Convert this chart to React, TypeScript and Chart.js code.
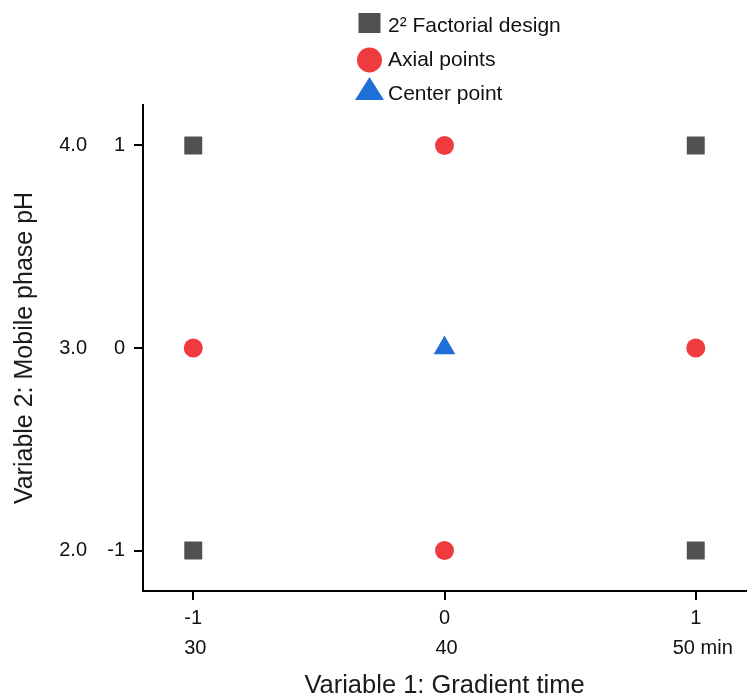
import React, { useEffect, useRef } from 'react';
import { Chart, registerables } from 'chart.js';

Chart.register(...registerables);

// Central composite design: coded levels of the two variables
const factorialX = [-1, 1, -1, 1];
const factorialY = [1, 1, -1, -1];
const axialX = [0, -1, 1, 0];
const axialY = [1, 0, 0, -1];
const centerX = [0];
const centerY = [0];

const seriesNames = ['2² Factorial design', 'Axial points', 'Center point'];
const seriesColors = ['#505050', '#EF3B3E', '#1F6FD8'];

const codedTicks = [-1, 0, 1];
const timeLabels = ['30', '40', '50 min'];
const phLabels = ['2.0', '3.0', '4.0'];

const xTitle = 'Variable 1: Gradient time';
const yTitle = 'Variable 2: Mobile phase pH';

const FONT = "'Liberation Sans', Arial, sans-serif";
const TICK_SIZE = 20;

const toPoints = (xs: number[], ys: number[]) => xs.map((x, i) => ({ x, y: ys[i] }));

// Second row of axis labels: the real-unit values under the coded levels
const unitLabelsPlugin = {
  id: 'unitLabels',
  afterDraw(chart: any) {
    const { ctx } = chart;
    const xs = chart.scales.x;
    const ys = chart.scales.y;
    ctx.save();
    ctx.font = `${TICK_SIZE}px ${FONT}`;
    ctx.fillStyle = '#111';
    ctx.textBaseline = 'middle';
    ctx.textAlign = 'center';
    codedTicks.forEach((v, i) => {
      const label = timeLabels[i];
      // the unit suffix hangs to the right of its value
      const shift = i === codedTicks.length - 1 ? 7 : 2;
      ctx.fillText(label, xs.getPixelForValue(v) + shift, xs.top + 57);
    });
    ctx.textAlign = 'right';
    codedTicks.forEach((v, i) => {
      ctx.fillText(phLabels[i], ys.left + 87, ys.getPixelForValue(v));
    });
    ctx.restore();
  },
};

// Vertical legend above the plot
const stackedLegendPlugin = {
  id: 'stackedLegend',
  afterDraw(chart: any) {
    const { ctx } = chart;
    const markerX = 369.5;
    const textX = 388;
    const firstRow = 26;
    const rowGap = 34;
    ctx.save();
    chart.data.datasets.forEach((ds: any, i: number) => {
      const y = firstRow + i * rowGap;
      ctx.fillStyle = ds.backgroundColor;
      ctx.beginPath();
      if (ds.pointStyle === 'rect') {
        ctx.rect(markerX - 11, y - 13, 22, 20);
      } else if (ds.pointStyle === 'circle') {
        ctx.arc(markerX, y, 12.5, 0, Math.PI * 2);
      } else {
        ctx.moveTo(markerX, y - 17);
        ctx.lineTo(markerX + 14.5, y + 6);
        ctx.lineTo(markerX - 14.5, y + 6);
        ctx.closePath();
      }
      ctx.fill();
      ctx.font = `21px ${FONT}`;
      ctx.fillStyle = '#111';
      ctx.textAlign = 'left';
      ctx.textBaseline = 'middle';
      ctx.fillText(ds.label, textX, y);
    });
    ctx.restore();
  },
};

export default function App() {
  const canvasRef = useRef<HTMLCanvasElement | null>(null);

  useEffect(() => {
    if (!canvasRef.current) return;
    const axisTicks = (scale: any) => {
      scale.ticks = codedTicks.map((value) => ({ value }));
    };
    const chart = new Chart(canvasRef.current, {
      type: 'scatter',
      data: {
        datasets: [
          {
            label: seriesNames[0],
            data: toPoints(factorialX, factorialY),
            pointStyle: 'rect',
            pointRadius: 12.7,
            backgroundColor: seriesColors[0],
            borderWidth: 0,
          },
          {
            label: seriesNames[1],
            data: toPoints(axialX, axialY),
            pointStyle: 'circle',
            pointRadius: 9.5,
            backgroundColor: seriesColors[1],
            borderWidth: 0,
          },
          {
            label: seriesNames[2],
            data: toPoints(centerX, centerY),
            pointStyle: 'triangle',
            pointRadius: 12.5,
            backgroundColor: seriesColors[2],
            borderWidth: 0,
          },
        ] as any,
      },
      options: {
        animation: false,
        responsive: false,
        devicePixelRatio: 1,
        layout: { autoPadding: false, padding: { top: 105, right: 1, left: 0, bottom: 0 } },
        plugins: {
          legend: { display: false },
          tooltip: { enabled: false },
        },
        scales: {
          x: {
            type: 'linear',
            min: -1.2,
            max: 1.2,
            afterBuildTicks: axisTicks,
            afterFit: (scale: any) => {
              scale.height = 108;
              scale.paddingLeft = 0;
              scale.paddingRight = 0;
            },
            ticks: {
              font: { family: FONT, size: TICK_SIZE },
              color: '#111',
              padding: 6,
              callback: (v: any) => String(v),
            },
            grid: {
              display: true,
              drawOnChartArea: false,
              drawTicks: true,
              tickLength: 9,
              lineWidth: 2,
              color: '#000',
            },
            border: { display: true, color: '#000', width: 2 },
            title: {
              display: true,
              text: xTitle,
              font: { family: FONT, size: 25.5, lineHeight: 1 },
              color: '#1a1a1a',
              padding: { top: 0, bottom: 0 },
            },
          },
          y: {
            type: 'linear',
            min: -1.2,
            max: 1.2,
            afterBuildTicks: axisTicks,
            afterFit: (scale: any) => {
              scale.width = 143;
              scale.paddingTop = 0;
              scale.paddingBottom = 0;
            },
            ticks: {
              font: { family: FONT, size: TICK_SIZE },
              color: '#111',
              padding: 9,
              callback: (v: any) => String(v),
            },
            grid: {
              display: true,
              drawOnChartArea: false,
              drawTicks: true,
              tickLength: 9,
              lineWidth: 2,
              color: '#000',
            },
            border: { display: true, color: '#000', width: 2 },
            title: {
              display: true,
              text: yTitle,
              font: { family: FONT, size: 25, lineHeight: 1 },
              color: '#1a1a1a',
              padding: { top: 13, bottom: 0 },
            },
          },
        },
      },
      plugins: [unitLabelsPlugin, stackedLegendPlugin],
    });
    return () => chart.destroy();
  }, []);

  return (
    <div style={{ position: 'absolute', left: 0, top: 0, width: 747, height: 699, background: '#fff' }}>
      <canvas ref={canvasRef} width={747} height={699} />
    </div>
  );
}
